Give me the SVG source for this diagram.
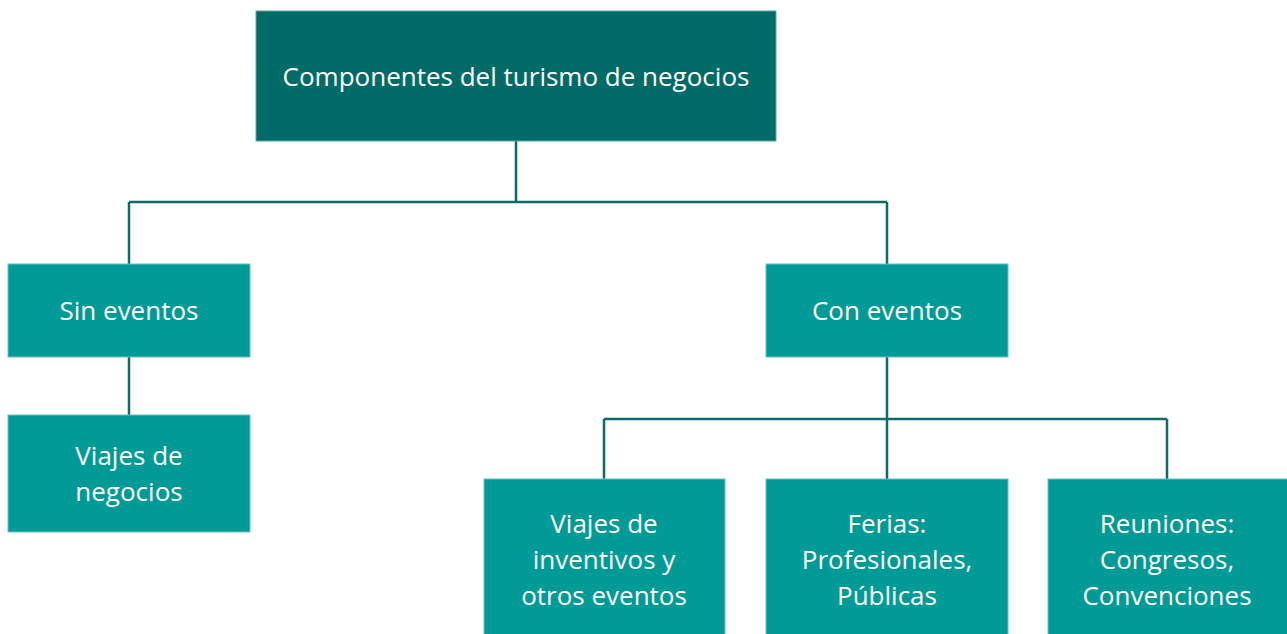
<svg xmlns="http://www.w3.org/2000/svg" width="1287" height="634" viewBox="0 0 1287 634">
<style>
.dark{fill:#006B67;stroke:#5FA6A3;stroke-width:1}
.box{fill:#009A97;stroke:#6CC2BF;stroke-width:1}
.t{font-family:"Open Sans","Noto Sans",sans-serif;font-size:26px;fill:#FFFFFF;text-anchor:middle}
.c{fill:none;stroke:#0E6B68;stroke-width:2.5}
</style>
<rect width="1287" height="634" fill="#FFFFFF"/>
<g id="connectors" class="c">
<path d="M516 141V202M129 202H887M129 202V264M887 202V264"/>
<path d="M129 357V415"/>
<path d="M887 357V479M604 419H1167M604 419V479M1167 419V479"/>
</g>
<g id="root"><rect class="dark" x="256" y="11" width="520" height="130"/><text class="t" x="516" y="86">Componentes del turismo de negocios</text></g>
<g id="sin"><rect class="box" x="8" y="264" width="242" height="93"/><text class="t" x="129" y="320">Sin eventos</text></g>
<g id="viajes-negocios"><rect class="box" x="8" y="415" width="242" height="117"/><text class="t" x="129" y="465">Viajes de</text><text class="t" x="129" y="501">negocios</text></g>
<g id="con"><rect class="box" x="766" y="264" width="242" height="93"/><text class="t" x="887" y="320">Con eventos</text></g>
<g id="incentivos"><rect class="box" x="484" y="479" width="241" height="160"/><text class="t" x="604" y="533">Viajes de</text><text class="t" x="604" y="569">inventivos y</text><text class="t" x="604" y="605">otros eventos</text></g>
<g id="ferias"><rect class="box" x="766" y="479" width="242" height="160"/><text class="t" x="887" y="533">Ferias:</text><text class="t" x="887" y="569">Profesionales,</text><text class="t" x="887" y="605">Públicas</text></g>
<g id="reuniones"><rect class="box" x="1048" y="479" width="245" height="160"/><text class="t" x="1167" y="533">Reuniones:</text><text class="t" x="1167" y="569">Congresos,</text><text class="t" x="1167" y="605">Convenciones</text></g>
</svg>
